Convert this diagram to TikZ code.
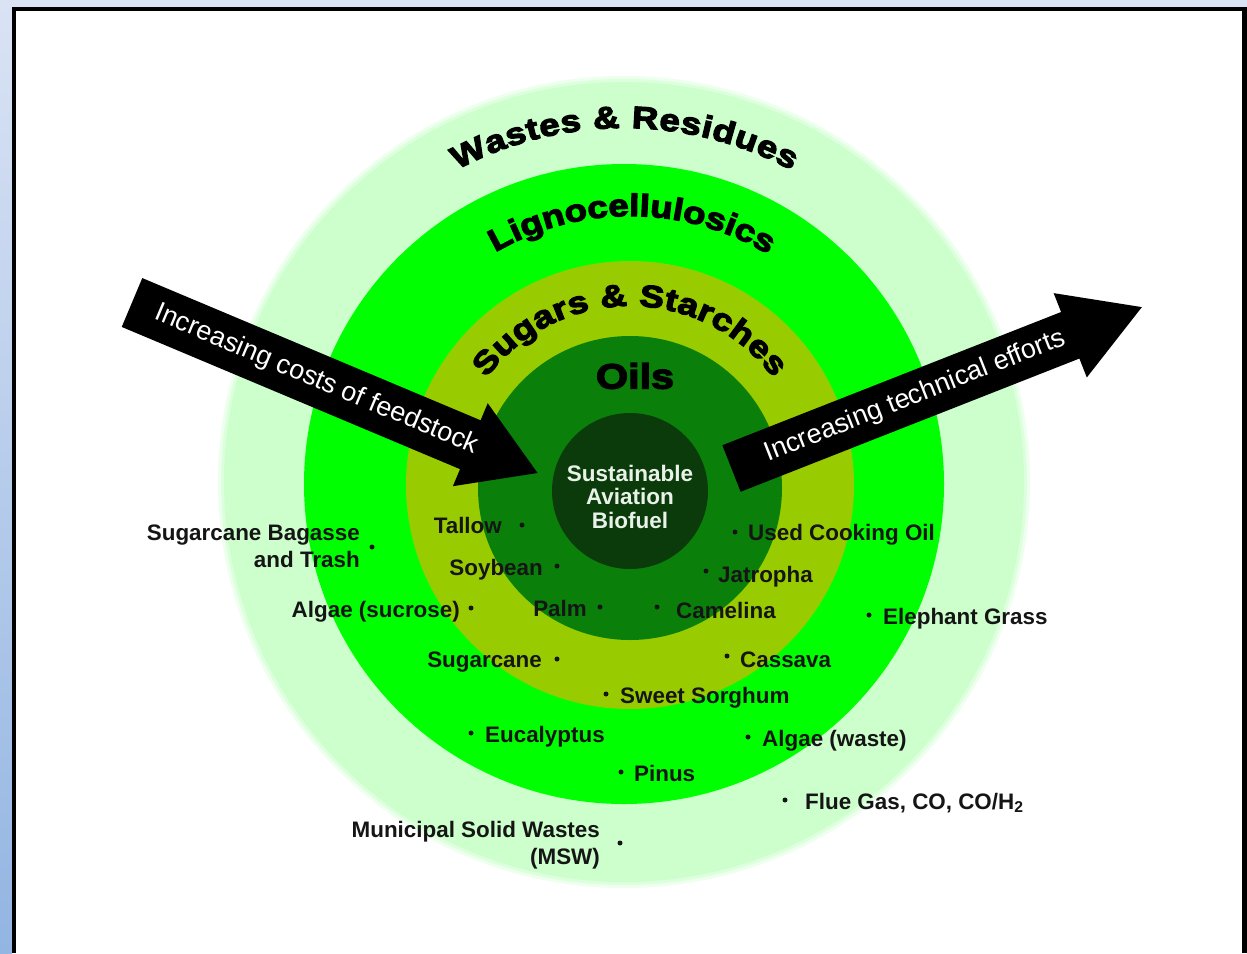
\documentclass[tikz,border=0pt]{standalone}
\usepackage{fontspec}
\setmainfont{Liberation Sans}
\newfontfamily\heavyfont[FakeBold=4, FakeStretch=1.18, BoldFeatures={FakeBold=4, FakeStretch=1.18}]{Liberation Sans}
\usetikzlibrary{calc,decorations.text}

\definecolor{ringwaste}{HTML}{CCFFCC}
\definecolor{ringligno}{HTML}{00FF00}
\definecolor{ringsugar}{HTML}{99CC00}
\definecolor{ringoil}{HTML}{0A800A}
\definecolor{corefill}{HTML}{0B3A0B}
\definecolor{coretext}{HTML}{E8F2E8}
\definecolor{labeltext}{HTML}{151515}
\definecolor{panelblueA}{HTML}{DAE3F4}
\definecolor{panelblueB}{HTML}{93B5E2}

\begin{document}
\begin{tikzpicture}[x=1pt,y=1pt,
  lbl/.style={font=\fontsize{22.4}{27}\selectfont\bfseries, text=labeltext, inner sep=0pt},
  dot/.style={circle, fill=labeltext, inner sep=0pt, minimum size=5pt},
  arrowtext/.style={font=\fontsize{27}{27}\selectfont, text=white, inner sep=0pt, transform shape},
  ringtext/.style={decorate, decoration={text along path, text align=fit to path,
      text={|\heavyfont\bfseries\fontsize{31}{31}\selectfont|#1}}},
  bigarrow/.style={fill=black},
  ]

% page frame: pale blue strips, black border, white sheet
\fill[panelblueA] (0,0) rectangle (1247,-953);
\shade[top color=panelblueA, bottom color=panelblueB] (0,0) rectangle (12,-953);
\fill[black] (12,-7) rectangle (1247,-953);
\fill[white] (16,-11) rectangle (1241.5,-953);
\useasboundingbox (0,0) rectangle (1247,-953);

% concentric feedstock rings
\coordinate (cW) at (624,-482);
\coordinate (cL) at (630,-484);
\coordinate (cS) at (630,-485);
\fill[ringwaste!35] (cW) circle[radius=406];
\fill[ringwaste!65] (cW) circle[radius=403];
\fill[ringwaste] (cW) circle[radius=400];
\fill[ringligno] (624,-484) circle[radius=320];
\fill[ringsugar] (cS) circle[radius=224];
\fill[ringoil] (630,-488) circle[radius=152];
\node[circle, fill=corefill, minimum size=156pt, inner sep=0pt] (core) at (630,-491) {};
\node[align=center, font=\fontsize{22.5}{23.5}\selectfont\bfseries, text=coretext, inner sep=0pt]
  (coretxt) at (630,-496.5) {Sustainable\\Aviation\\Biofuel};

% ring titles
\path[ringtext={Wastes {\&} Residues}]
  ($(cW)+(118.1:354)$) arc[start angle=118.1, end angle=61.7, radius=354];
\path[ringtext={Lignocellulosics}]
  ($(cL)+(120.2:268)$) arc[start angle=120.2, end angle=59.8, radius=268];
\path[ringtext={Sugars {\&} Starches}]
  ($(cS)+(143.3:179)$) arc[start angle=143.3, end angle=36.7, radius=179];
\node[font=\heavyfont\bfseries\fontsize{35}{35}\selectfont, inner sep=0pt] (oils) at (635,-376) {Oils};

% arrow: increasing costs of feedstock
\begin{scope}[shift={(132,-302.5)}, rotate=-22.8]
  \fill[bigarrow] (0,26.5) -- (367,26.5) -- (367,45) -- (440,0) -- (367,-45)
    -- (367,-26.5) -- (0,-26.5) -- cycle;
  \node[arrowtext] (costtxt) at (200,0) {Increasing costs of feedstock};
\end{scope}

% arrow: increasing technical efforts
\begin{scope}[shift={(731.5,-468.5)}, rotate=21.47]
  \fill[bigarrow] (0,25) -- (364,25) -- (364,45.3) -- (441,0) -- (364,-45.3)
    -- (364,-25) -- (0,-25) -- cycle;
  \node[arrowtext] (efforttxt) at (197,0) {Increasing technical efforts};
\end{scope}

% feedstocks to the left of their bullet
\node[lbl, anchor=east, align=right] (bagasse) at (360,-546.5) {Sugarcane Bagasse\\and Trash};
\node[dot] (bagassedot) at (372,-547) {};
\node[lbl, anchor=base east] (tallow) at (502,-533) {Tallow};
\node[dot] (tallowdot) at (522,-525) {};
\node[lbl, anchor=base east] (soybean) at (543,-575) {Soybean};
\node[dot] (soybeandot) at (557,-566) {};
\node[lbl, anchor=base east] (algaesuc) at (460,-617) {Algae (sucrose)};
\node[dot] (algaesucdot) at (471,-608) {};
\node[lbl, anchor=base east] (palm) at (587,-616) {Palm};
\node[dot] (palmdot) at (600,-607) {};
\node[lbl, anchor=base east] (sugarcane) at (542,-667) {Sugarcane};
\node[dot] (sugarcanedot) at (557,-659) {};
\node[lbl, anchor=east, align=right] (msw) at (600,-845.5) {Municipal Solid Wastes\\(MSW)};
\node[dot] (mswdot) at (620,-843) {};

% feedstocks to the right of their bullet
\node[lbl, anchor=base west] (uco) at (748,-540) {Used Cooking Oil};
\node[dot] (ucodot) at (735,-532) {};
\node[lbl, anchor=base west] (jatropha) at (718,-582) {Jatropha};
\node[dot] (jatrophadot) at (706,-571) {};
\node[lbl, anchor=base west] (camelina) at (676,-618) {Camelina};
\node[dot] (camelinadot) at (657,-607) {};
\node[lbl, anchor=base west] (elephant) at (883,-624) {Elephant Grass};
\node[dot] (elephantdot) at (869,-615) {};
\node[lbl, anchor=base west] (cassava) at (740,-667) {Cassava};
\node[dot] (cassavadot) at (727,-656) {};
\node[lbl, anchor=base west] (sorghum) at (620,-703) {Sweet Sorghum};
\node[dot] (sorghumdot) at (606,-694) {};
\node[lbl, anchor=base west] (eucalyptus) at (485,-742) {Eucalyptus};
\node[dot] (eucalyptusdot) at (471,-733) {};
\node[lbl, anchor=base west] (algaewaste) at (762,-746) {Algae (waste)};
\node[dot] (algaewastedot) at (748,-737) {};
\node[lbl, anchor=base west] (pinus) at (634,-781) {Pinus};
\node[dot] (pinusdot) at (621,-772) {};
\node[lbl, anchor=base west] (fluegas) at (805,-809) {Flue Gas, CO, CO/H\textsubscript{2}};
\node[dot] (fluegasdot) at (785,-800) {};
\end{tikzpicture}
\end{document}
